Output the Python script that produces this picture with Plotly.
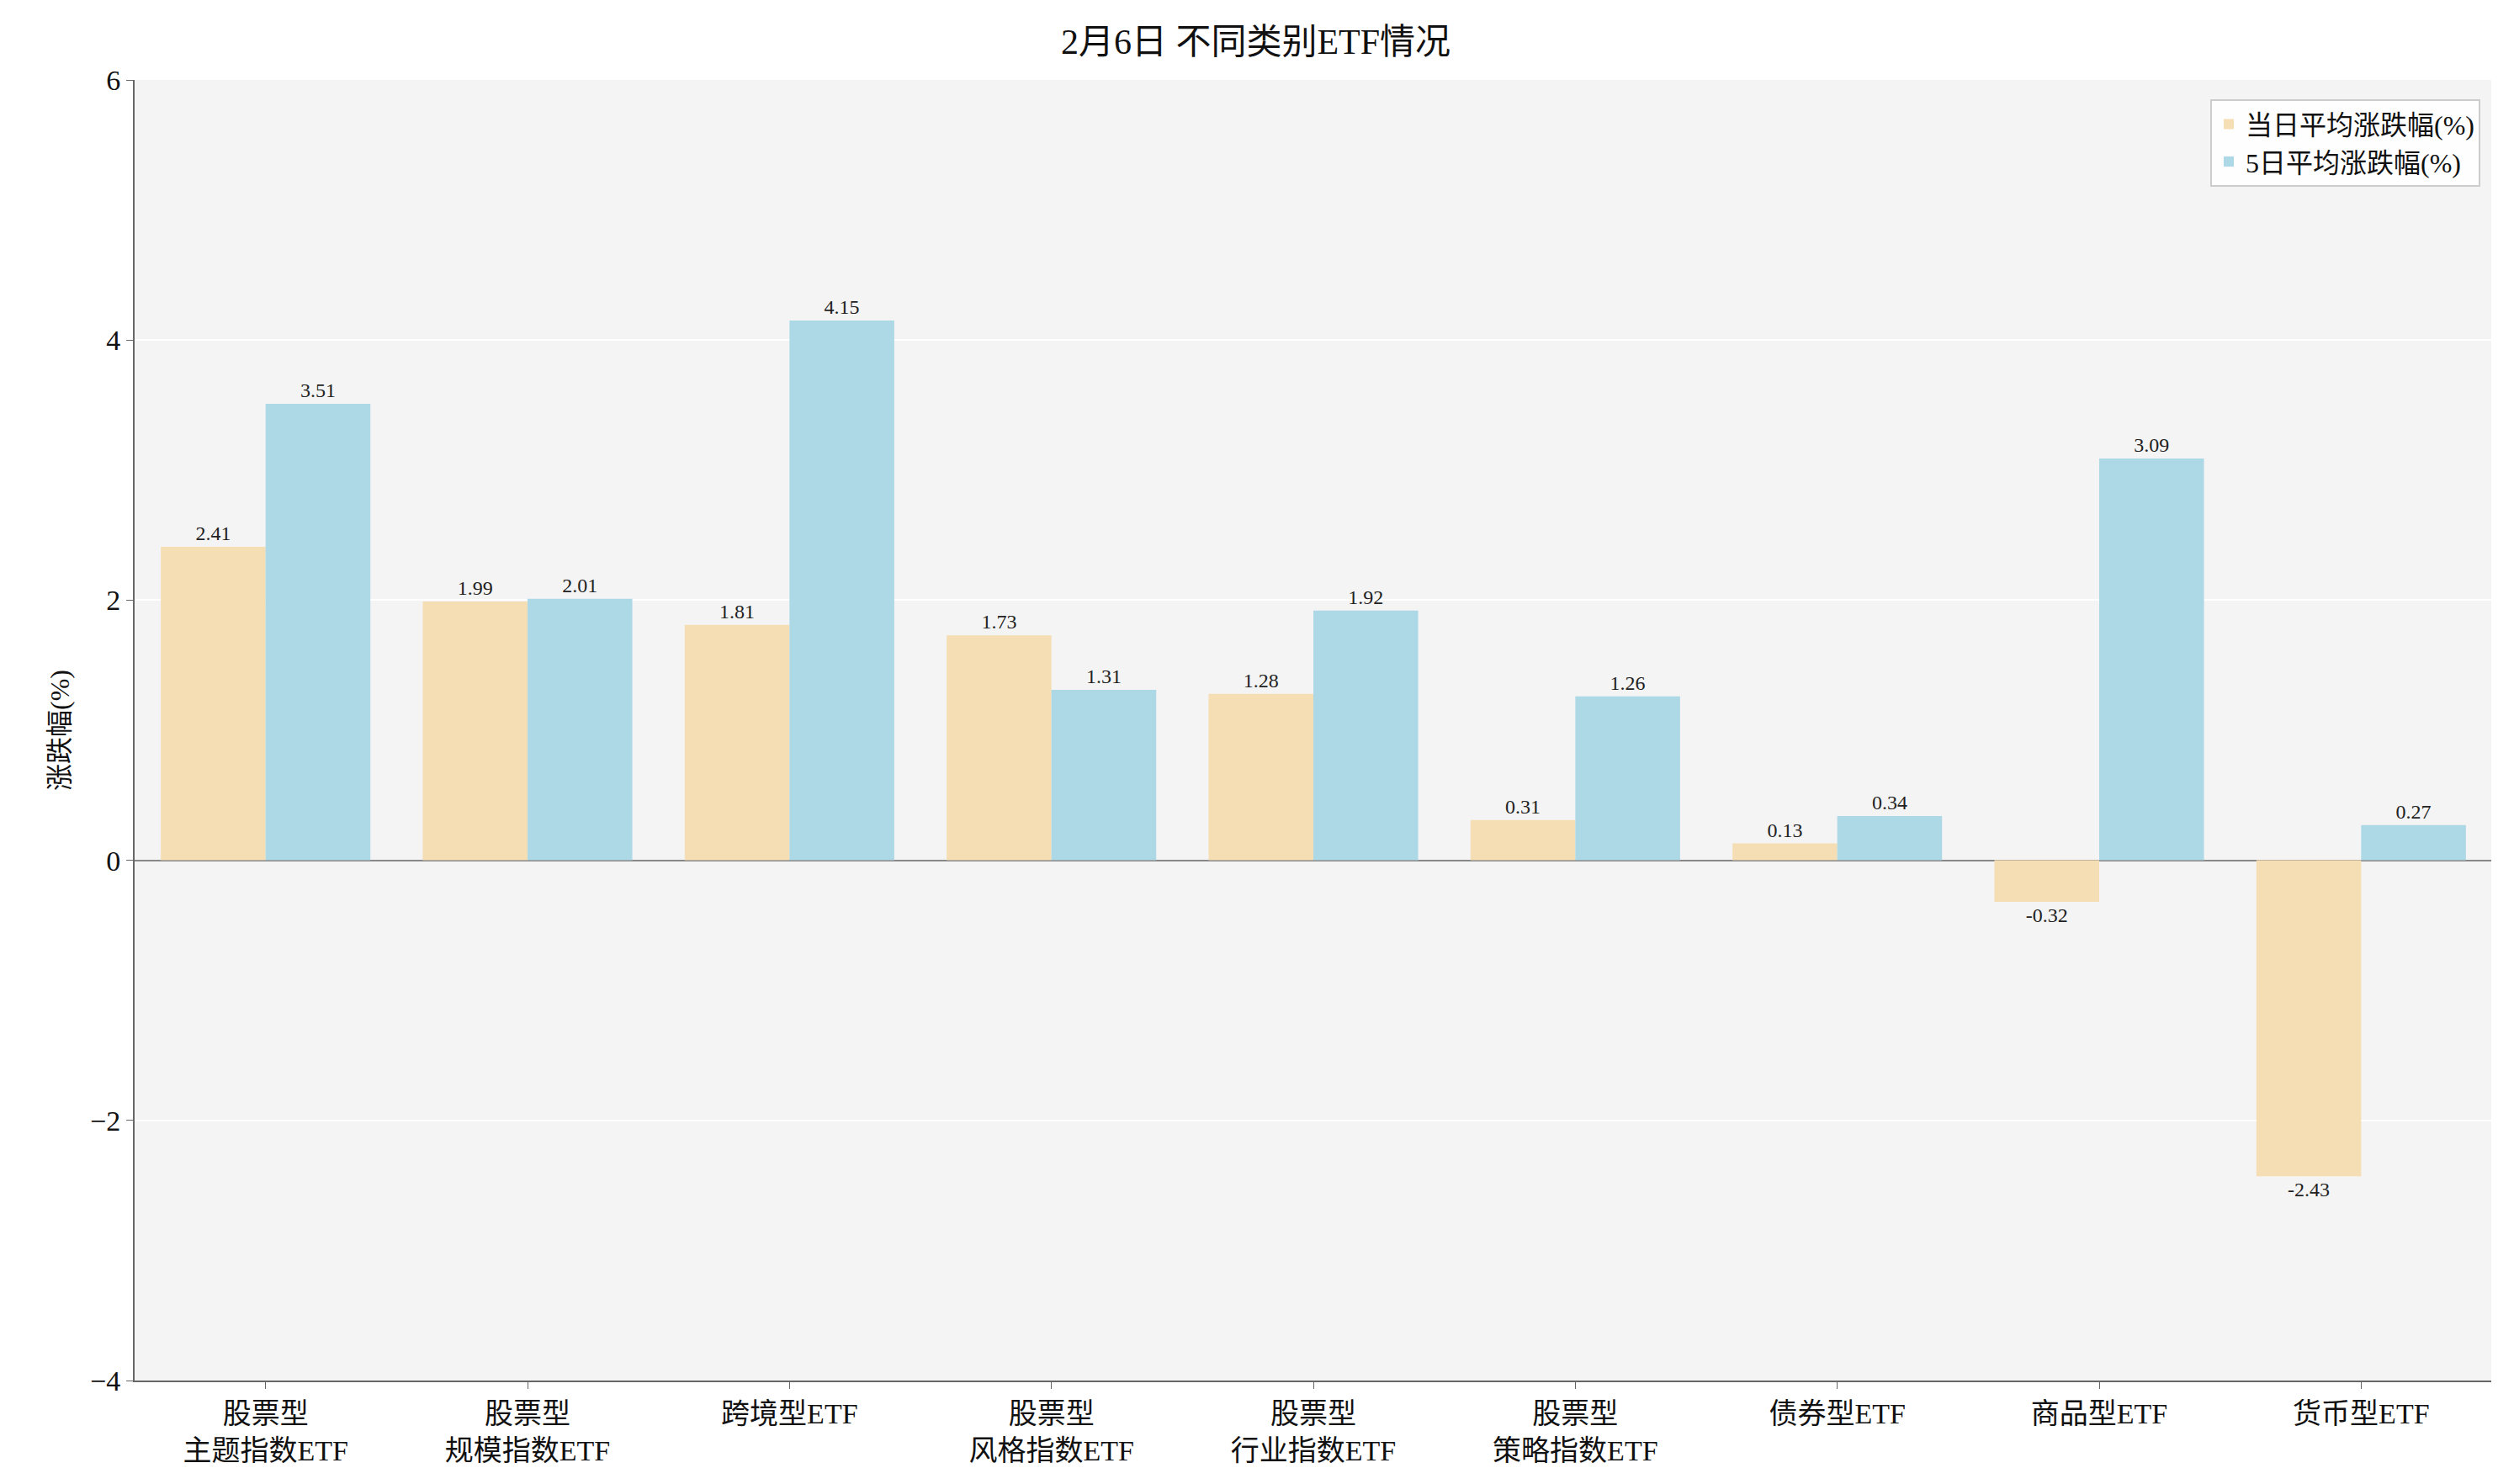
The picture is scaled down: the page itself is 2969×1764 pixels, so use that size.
import plotly.graph_objects as go

categories = ["股票型<br>主题指数ETF", "股票型<br>规模指数ETF", "跨境型ETF", "股票型<br>风格指数ETF",
              "股票型<br>行业指数ETF", "股票型<br>策略指数ETF", "债券型ETF", "商品型ETF", "货币型ETF"]
day_change = [2.41, 1.99, 1.81, 1.73, 1.28, 0.31, 0.13, -0.32, -2.43]
five_day_change = [3.51, 2.01, 4.15, 1.31, 1.92, 1.26, 0.34, 3.09, 0.27]

font_family = "Liberation Serif, Noto Sans CJK SC"

fig = go.Figure()
fig.add_trace(go.Bar(x=categories, y=day_change, name="当日平均涨跌幅(%)",
                     marker=dict(color="#F5DEB3", line=dict(width=0)),
                     text=["%.2f" % v for v in day_change], textposition="outside",
                     textfont=dict(size=24, color="#222"), cliponaxis=False))
fig.add_trace(go.Bar(x=categories, y=five_day_change, name="5日平均涨跌幅(%)",
                     marker=dict(color="#ADD8E6", line=dict(width=0)),
                     text=["%.2f" % v for v in five_day_change], textposition="outside",
                     textfont=dict(size=24, color="#222"), cliponaxis=False))

fig.update_layout(
    width=2969, height=1764,
    font=dict(family=font_family, size=34, color="#111"),
    title=dict(text="2月6日 不同类别ETF情况", x=0.5, y=0.985, xanchor="center",
               font=dict(size=42)),
    plot_bgcolor="#F4F4F4", paper_bgcolor="white",
    barmode="group", bargap=0.2, bargroupgap=0,
    margin=dict(l=152, r=15, t=87, b=131),
    legend=dict(x=0.995, y=0.985, xanchor="right", yanchor="top",
                bgcolor="rgba(255,255,255,0.9)", bordercolor="#ccc", borderwidth=2,
                font=dict(size=32)),
    uniformtext=dict(mode=False),
)
fig.update_yaxes(range=[-4, 6], dtick=2, title=dict(text="涨跌幅(%)", font=dict(size=32)),
                 gridcolor="white", gridwidth=2, zeroline=True, zerolinecolor="#888",
                 zerolinewidth=2, showline=True, linecolor="#666", linewidth=2,
                 ticks="outside", ticklen=8, tickcolor="#666")
fig.update_xaxes(showline=True, linecolor="#666", linewidth=2, ticks="outside",
                 ticklen=8, tickcolor="#666", showgrid=False)

fig.write_html("out.html")
